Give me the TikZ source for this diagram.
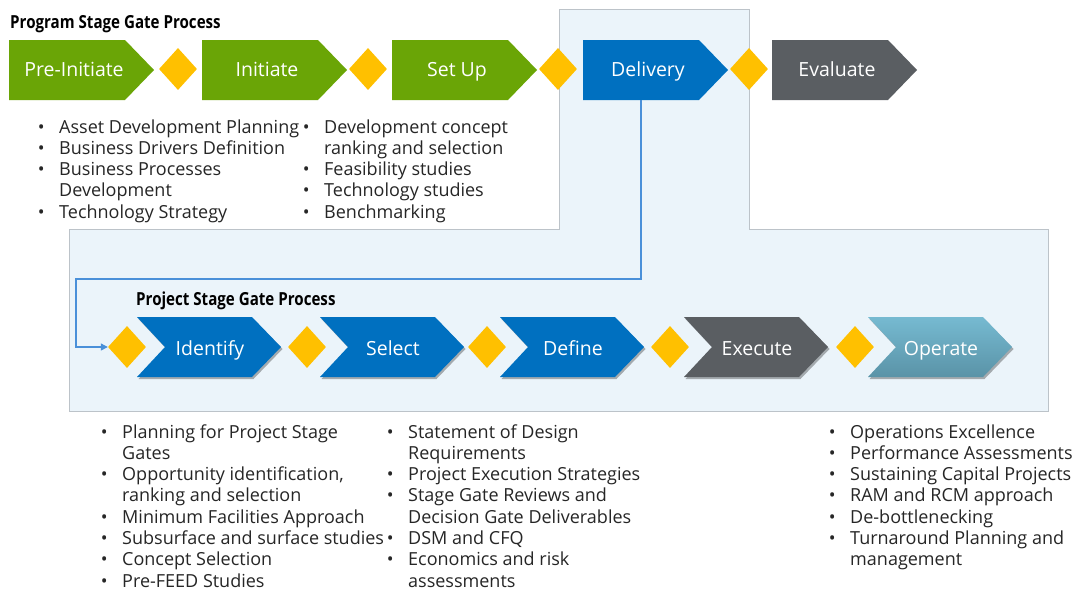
\documentclass[tikz,border=0pt]{standalone}
\usepackage{fontspec}
\setmainfont{Open Sans}
\newfontfamily\titlefont[FakeStretch=0.84]{Open Sans}
\usetikzlibrary{shapes.geometric,shadows,arrows.meta}
\definecolor{pgreen}{HTML}{6AA506}
\definecolor{pyellow}{HTML}{FFC000}
\definecolor{pblue}{HTML}{0070C0}
\definecolor{pgray}{HTML}{5A5E62}
\definecolor{pteala}{HTML}{76BAD1}
\definecolor{ptealb}{HTML}{5A93A7}
\definecolor{panelfill}{HTML}{EBF4FA}
\definecolor{panelline}{HTML}{BCC3C9}
\definecolor{connc}{HTML}{4A90D9}
\definecolor{txt}{HTML}{262626}
\newcommand\bul{\llap{\makebox[0pt]{\textbullet}\hspace{18pt}}}
\tikzset{
  toplabel/.style={text=white, font=\fontsize{19.5}{22}\selectfont, anchor=base, inner sep=0pt},
  bodybox/.style={minimum width=116pt, minimum height=60pt, inner sep=0pt},
  gate/.style={diamond, fill=pyellow, minimum width=38pt, minimum height=42pt, inner sep=0pt},
  lowshadow/.style={drop shadow={shadow xshift=1.5pt, shadow yshift=-2pt, opacity=0.3, fill=black}},
  listtxt/.style={anchor=base west, inner sep=0pt, text=txt, font=\fontsize{18}{21.3}\selectfont},
  titletxt/.style={anchor=base west, inner sep=0pt, text=black, font=\titlefont\bfseries\fontsize{18}{20}\selectfont},
  conn/.style={draw=connc, line width=1.2pt, -{Triangle[length=7pt,width=7pt]}},
  panel/.style={fill=panelfill, draw=panelline, line width=1pt}
}
\newcommand\topchev[4]{%
  \fill[#3] (#2,40) -- ++(116,0) -- ++(29,30) -- ++(-29,30) -- ++(-116,0) -- cycle;
  \node[bodybox] (#1) at ({#2+58},70) {};
  \node[toplabel] (#1-t) at ({#2+65},76) {#4};}
\newcommand\lowchev[4]{%
  \path[#3, lowshadow] (#2,317) -- ++(115,0) -- ++(29,30) -- ++(-29,30) -- ++(-115,0) -- ++(28,-30) -- cycle;
  \node[bodybox] (#1) at ({#2+72},347) {};
  \node[toplabel] (#1-t) at ({#2+73},355) {#4};}
\begin{document}
\begin{tikzpicture}[x=1pt,y=-1pt]
\useasboundingbox (0,0) rectangle (1074,590);
\fill[white] (0,0) rectangle (1074,590);
% panel
\path[panel] (559,9) -- (749,9) -- (749,229) -- (1048,229) -- (1048,411) -- (69,411) -- (69,229) -- (559,229) -- cycle;
% titles
\node[titletxt] (t1) at (10,28) {Program Stage Gate Process};
\node[titletxt] (t2) at (136,305) {Project Stage Gate Process};
% top row
\topchev{pre}{9}{pgreen}{Pre-Initiate}
\topchev{ini}{202}{pgreen}{Initiate}
\topchev{set}{392}{pgreen}{Set Up}
\topchev{del}{583}{pblue}{Delivery}
\topchev{eva}{772}{pgray}{Evaluate}
\node[gate] (g1) at (178,69) {};
\node[gate] (g2) at (368,69) {};
\node[gate] (g3) at (558,69) {};
\node[gate] (g4) at (749,69) {};
% lower row
\lowchev{ide}{137}{fill=pblue}{Identify}
\lowchev{sel}{320}{fill=pblue}{Select}
\lowchev{def}{500}{fill=pblue}{Define}
\lowchev{exe}{684}{fill=pgray}{Execute}
\lowchev{ope}{868}{top color=pteala,bottom color=ptealb}{Operate}
\node[gate] (h1) at (127,347) {};
\node[gate] (h2) at (307,347) {};
\node[gate] (h3) at (487,347) {};
\node[gate] (h4) at (670,347) {};
\node[gate] (h5) at (855,347) {};
% connector
\coordinate (bend) at (76,279);
\draw[conn] (del.south) |- (bend) |- (h1.west);
% lists
\node[listtxt] (la) at (59,133) {\begin{tabular}[t]{@{}l@{}}\bul Asset Development Planning\\ \bul Business Drivers Definition\\ \bul Business Processes\\ Development\\ \bul Technology Strategy\end{tabular}};
\node[listtxt] (lb) at (324,133) {\begin{tabular}[t]{@{}l@{}}\bul Development concept\\ ranking and selection\\ \bul Feasibility studies\\ \bul Technology studies\\ \bul Benchmarking\end{tabular}};
\node[listtxt] (lc) at (122,438) {\begin{tabular}[t]{@{}l@{}}\bul Planning for Project Stage\\ Gates\\ \bul Opportunity identification,\\ ranking and selection\\ \bul Minimum Facilities Approach\\ \bul Subsurface and surface studies\\ \bul Concept Selection\\ \bul Pre-FEED Studies\end{tabular}};
\node[listtxt] (ld) at (408,438) {\begin{tabular}[t]{@{}l@{}}\bul Statement of Design\\ Requirements\\ \bul Project Execution Strategies\\ \bul Stage Gate Reviews and\\ Decision Gate Deliverables\\ \bul DSM and CFQ\\ \bul Economics and risk\\ assessments\end{tabular}};
\node[listtxt] (le) at (850,438) {\begin{tabular}[t]{@{}l@{}}\bul Operations Excellence\\ \bul Performance Assessments\\ \bul Sustaining Capital Projects\\ \bul RAM and RCM approach\\ \bul De-bottlenecking\\ \bul Turnaround Planning and\\ management\end{tabular}};
\end{tikzpicture}
\end{document}
